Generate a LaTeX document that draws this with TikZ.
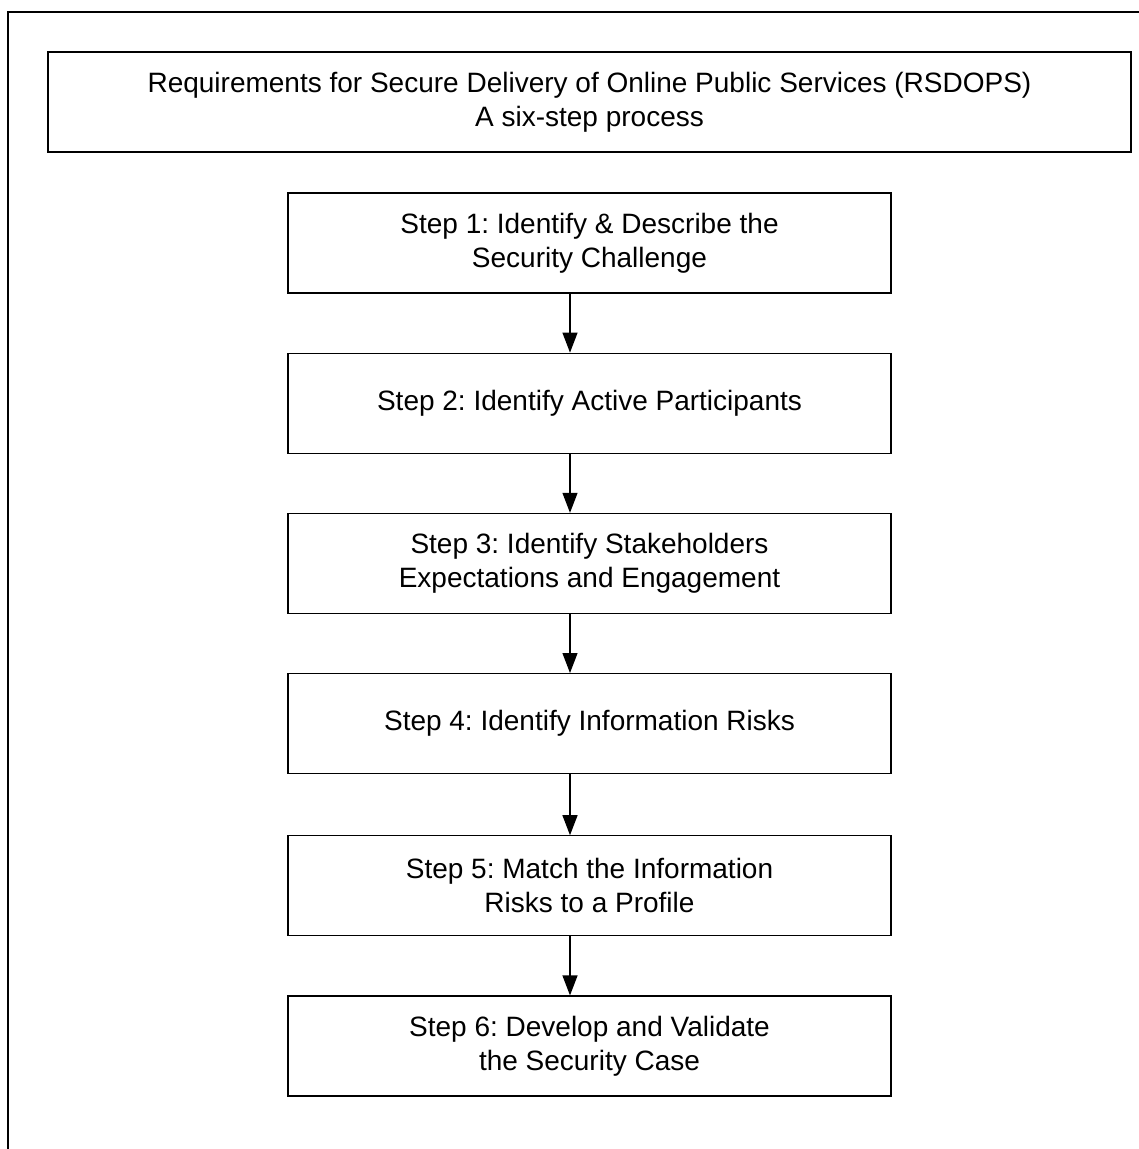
\documentclass[tikz,border=0pt]{standalone}
\usepackage{fontspec}
\setmainfont{Liberation Sans}
\usetikzlibrary{positioning, arrows.meta}

\tikzset{
  titlebox/.style={draw, line width=1.2pt, minimum width=1083pt, minimum height=100pt,
    align=center, inner sep=0pt, font=\fontsize{28}{34}\selectfont},
  stepbox/.style={draw, line width=1.2pt, minimum width=603pt, minimum height=100pt,
    align=center, inner sep=0pt, font=\fontsize{28}{34}\selectfont},
  flow/.style={line width=1.2pt, -{Triangle[length=20pt, width=15pt]}}
}

\begin{document}
\frenchspacing
\begin{tikzpicture}[x=1pt, y=-1pt]
\useasboundingbox (0,0) rectangle (1139,1149);

% outer frame
\draw[line width=1.2pt] (8,1149) -- (8,12) -- (1139,12);

\node[titlebox] (title) at (589.5,102) {Requirements for Secure Delivery of Online Public Services (RSDOPS)\\A six-step process};

\node[stepbox] (s1) at (589.5,243) {Step 1: Identify \& Describe the\\Security Challenge};
\node[stepbox, below=59pt of s1] (s2) {Step 2: Identify Active Participants};
\node[stepbox, below=59pt of s2] (s3) {Step 3: Identify Stakeholders\\Expectations and Engagement};
\node[stepbox, below=59pt of s3] (s4) {Step 4: Identify Information Risks};
\node[stepbox, below=61pt of s4] (s5) {Step 5: Match the Information\\Risks to a Profile};
\node[stepbox, below=59pt of s5] (s6) {Step 6: Develop and Validate\\the Security Case};

\foreach \a/\b in {s1/s2, s2/s3, s3/s4, s4/s5, s5/s6}
  \draw[flow] ([xshift=-19.5pt]\a.south) -- ([xshift=-19.5pt]\b.north);
\end{tikzpicture}
\end{document}
